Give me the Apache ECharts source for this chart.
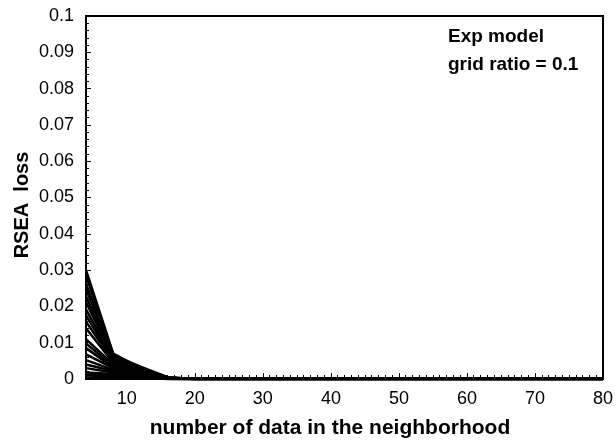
<!DOCTYPE html>
<html>
<head>
<meta charset="utf-8">
<script src="https://cdn.jsdelivr.net/npm/echarts@6/dist/echarts.min.js"></script>
<style>
  html, body { margin: 0; padding: 0; background: #fff; }
  #chart { width: 616px; height: 442px; }
</style>
</head>
<body>
<div id="chart"></div>
<script>
// neighbourhood sizes at which the loss was evaluated
const neighborCounts = [4, 8, 12, 16, 20, 24, 28, 32, 36, 40, 44, 48, 52, 56, 60, 64, 68, 72, 76, 80];

// RSEA loss curves, one per run
const run01 = [0.0300, 0.0070, 0.0030, 0.0004, 0, 0, 0, 0, 0, 0, 0, 0, 0, 0, 0, 0, 0, 0, 0, 0];
const run02 = [0.0285, 0.0068, 0.0028, 0.0003, 0, 0, 0, 0, 0, 0, 0, 0, 0, 0, 0, 0, 0, 0, 0, 0];
const run03 = [0.0262, 0.0066, 0.0034, 0.0005, 0, 0, 0, 0, 0, 0, 0, 0, 0, 0, 0, 0, 0, 0, 0, 0];
const run04 = [0.0248, 0.0061, 0.0025, 0.0003, 0, 0, 0, 0, 0, 0, 0, 0, 0, 0, 0, 0, 0, 0, 0, 0];
const run05 = [0.0228, 0.0058, 0.0031, 0.0004, 0, 0, 0, 0, 0, 0, 0, 0, 0, 0, 0, 0, 0, 0, 0, 0];
const run06 = [0.0212, 0.0055, 0.0022, 0.0002, 0, 0, 0, 0, 0, 0, 0, 0, 0, 0, 0, 0, 0, 0, 0, 0];
const run07 = [0.0192, 0.0052, 0.0020, 0.0003, 0, 0, 0, 0, 0, 0, 0, 0, 0, 0, 0, 0, 0, 0, 0, 0];
const run08 = [0.0175, 0.0050, 0.0018, 0.0002, 0, 0, 0, 0, 0, 0, 0, 0, 0, 0, 0, 0, 0, 0, 0, 0];
const run09 = [0.0158, 0.0048, 0.0020, 0.0002, 0, 0, 0, 0, 0, 0, 0, 0, 0, 0, 0, 0, 0, 0, 0, 0];
const run10 = [0.0140, 0.0045, 0.0015, 0.0002, 0, 0, 0, 0, 0, 0, 0, 0, 0, 0, 0, 0, 0, 0, 0, 0];
const run11 = [0.0110, 0.0040, 0.0015, 0.0001, 0, 0, 0, 0, 0, 0, 0, 0, 0, 0, 0, 0, 0, 0, 0, 0];
const run12 = [0.0098, 0.0036, 0.0012, 0.0001, 0, 0, 0, 0, 0, 0, 0, 0, 0, 0, 0, 0, 0, 0, 0, 0];
const run13 = [0.0085, 0.0032, 0.0010, 0.0001, 0, 0, 0, 0, 0, 0, 0, 0, 0, 0, 0, 0, 0, 0, 0, 0];
const run14 = [0.0068, 0.0030, 0.0011, 0.0001, 0, 0, 0, 0, 0, 0, 0, 0, 0, 0, 0, 0, 0, 0, 0, 0];
const run15 = [0.0052, 0.0025, 0.0008, 0.0001, 0, 0, 0, 0, 0, 0, 0, 0, 0, 0, 0, 0, 0, 0, 0, 0];
const run16 = [0.0040, 0.0022, 0.0008, 0.0001, 0, 0, 0, 0, 0, 0, 0, 0, 0, 0, 0, 0, 0, 0, 0, 0];
const run17 = [0.0030, 0.0018, 0.0007, 0, 0, 0, 0, 0, 0, 0, 0, 0, 0, 0, 0, 0, 0, 0, 0, 0];
const run18 = [0.0018, 0.0014, 0.0005, 0, 0, 0, 0, 0, 0, 0, 0, 0, 0, 0, 0, 0, 0, 0, 0, 0];
const run19 = [0.0012, 0.0010, 0.0004, 0, 0, 0, 0, 0, 0, 0, 0, 0, 0, 0, 0, 0, 0, 0, 0, 0];
const run20 = [0.0004, 0.0006, 0.0003, 0, 0, 0, 0, 0, 0, 0, 0, 0, 0, 0, 0, 0, 0, 0, 0, 0];

const runs = [run01, run02, run03, run04, run05, run06, run07, run08, run09, run10,
              run11, run12, run13, run14, run15, run16, run17, run18, run19, run20];

// axis tick labels
const xTickLabels = [10, 20, 30, 40, 50, 60, 70, 80];
const xMinorTicks = [];
for (let v = 5; v <= 80; v++) if (v % 10 !== 0) xMinorTicks.push(v);

const FONT = 'Liberation Sans, Arial, sans-serif';

const chart = echarts.init(document.getElementById('chart'), null, { renderer: 'canvas' });

const series = runs.map((vals, i) => ({
  name: 'run ' + (i + 1),
  type: 'line',
  xAxisIndex: 0,
  yAxisIndex: 0,
  data: neighborCounts.map((x, j) => [x, vals[j]]),
  showSymbol: false,
  lineStyle: { color: '#000', width: 2.5 },
  silent: true,
  animation: false
}));

chart.setOption({
  animation: false,
  backgroundColor: '#fff',
  grid: {
    left: 86, top: 16, right: 9, bottom: 63,
    show: true, borderColor: '#000', borderWidth: 2, backgroundColor: 'transparent'
  },
  xAxis: [{
    type: 'value',
    min: 4, max: 80,
    position: 'bottom',
    axisLine: { show: true, onZero: false, lineStyle: { color: '#000', width: 2 } },
    axisTick: { show: true, inside: true, length: 6, customValues: xTickLabels, lineStyle: { color: '#000', width: 1 } },
    axisLabel: { customValues: xTickLabels, fontFamily: FONT, fontSize: 18, color: '#000', margin: 11 },
    splitLine: { show: false }
  }, {
    type: 'value',
    min: 4, max: 80,
    position: 'bottom',
    axisLine: { show: false },
    axisTick: { show: true, inside: true, length: 4, customValues: xMinorTicks, lineStyle: { color: '#000', width: 1 } },
    axisLabel: { show: false },
    splitLine: { show: false }
  }],
  yAxis: [{
    type: 'value',
    min: 0, max: 0.1, interval: 0.01,
    axisLine: { show: true, onZero: false, lineStyle: { color: '#000', width: 2 } },
    axisTick: { show: true, inside: true, length: 5, lineStyle: { color: '#000', width: 1 } },
    minorTick: { show: true, splitNumber: 5, length: 3, lineStyle: { color: '#000', width: 1 } },
    axisLabel: {
      fontFamily: FONT, fontSize: 18, color: '#000', margin: 12,
      formatter: v => (v === 0 ? '0' : (Math.round(v * 100) / 100).toString())
    },
    splitLine: { show: false }
  }],
  graphic: [
    // axis titles
    { type: 'text', x: 330, y: 428,
      style: { text: 'number of data in the neighborhood', font: 'bold 21px ' + FONT, fill: '#000',
               align: 'center', verticalAlign: 'middle' } },
    { type: 'text', x: 22, y: 205, rotation: Math.PI / 2,
      style: { text: 'RSEA  loss', font: 'bold 20px ' + FONT, fill: '#000',
               align: 'center', verticalAlign: 'middle' } },
    // model annotation
    { type: 'text', x: 448, y: 37,
      style: { text: 'Exp model', font: 'bold 19px ' + FONT, fill: '#000', verticalAlign: 'middle' } },
    { type: 'text', x: 448, y: 65,
      style: { text: 'grid ratio = 0.1', font: 'bold 19px ' + FONT, fill: '#000', verticalAlign: 'middle' } }
  ],
  series: series
});
</script>
</body>
</html>
